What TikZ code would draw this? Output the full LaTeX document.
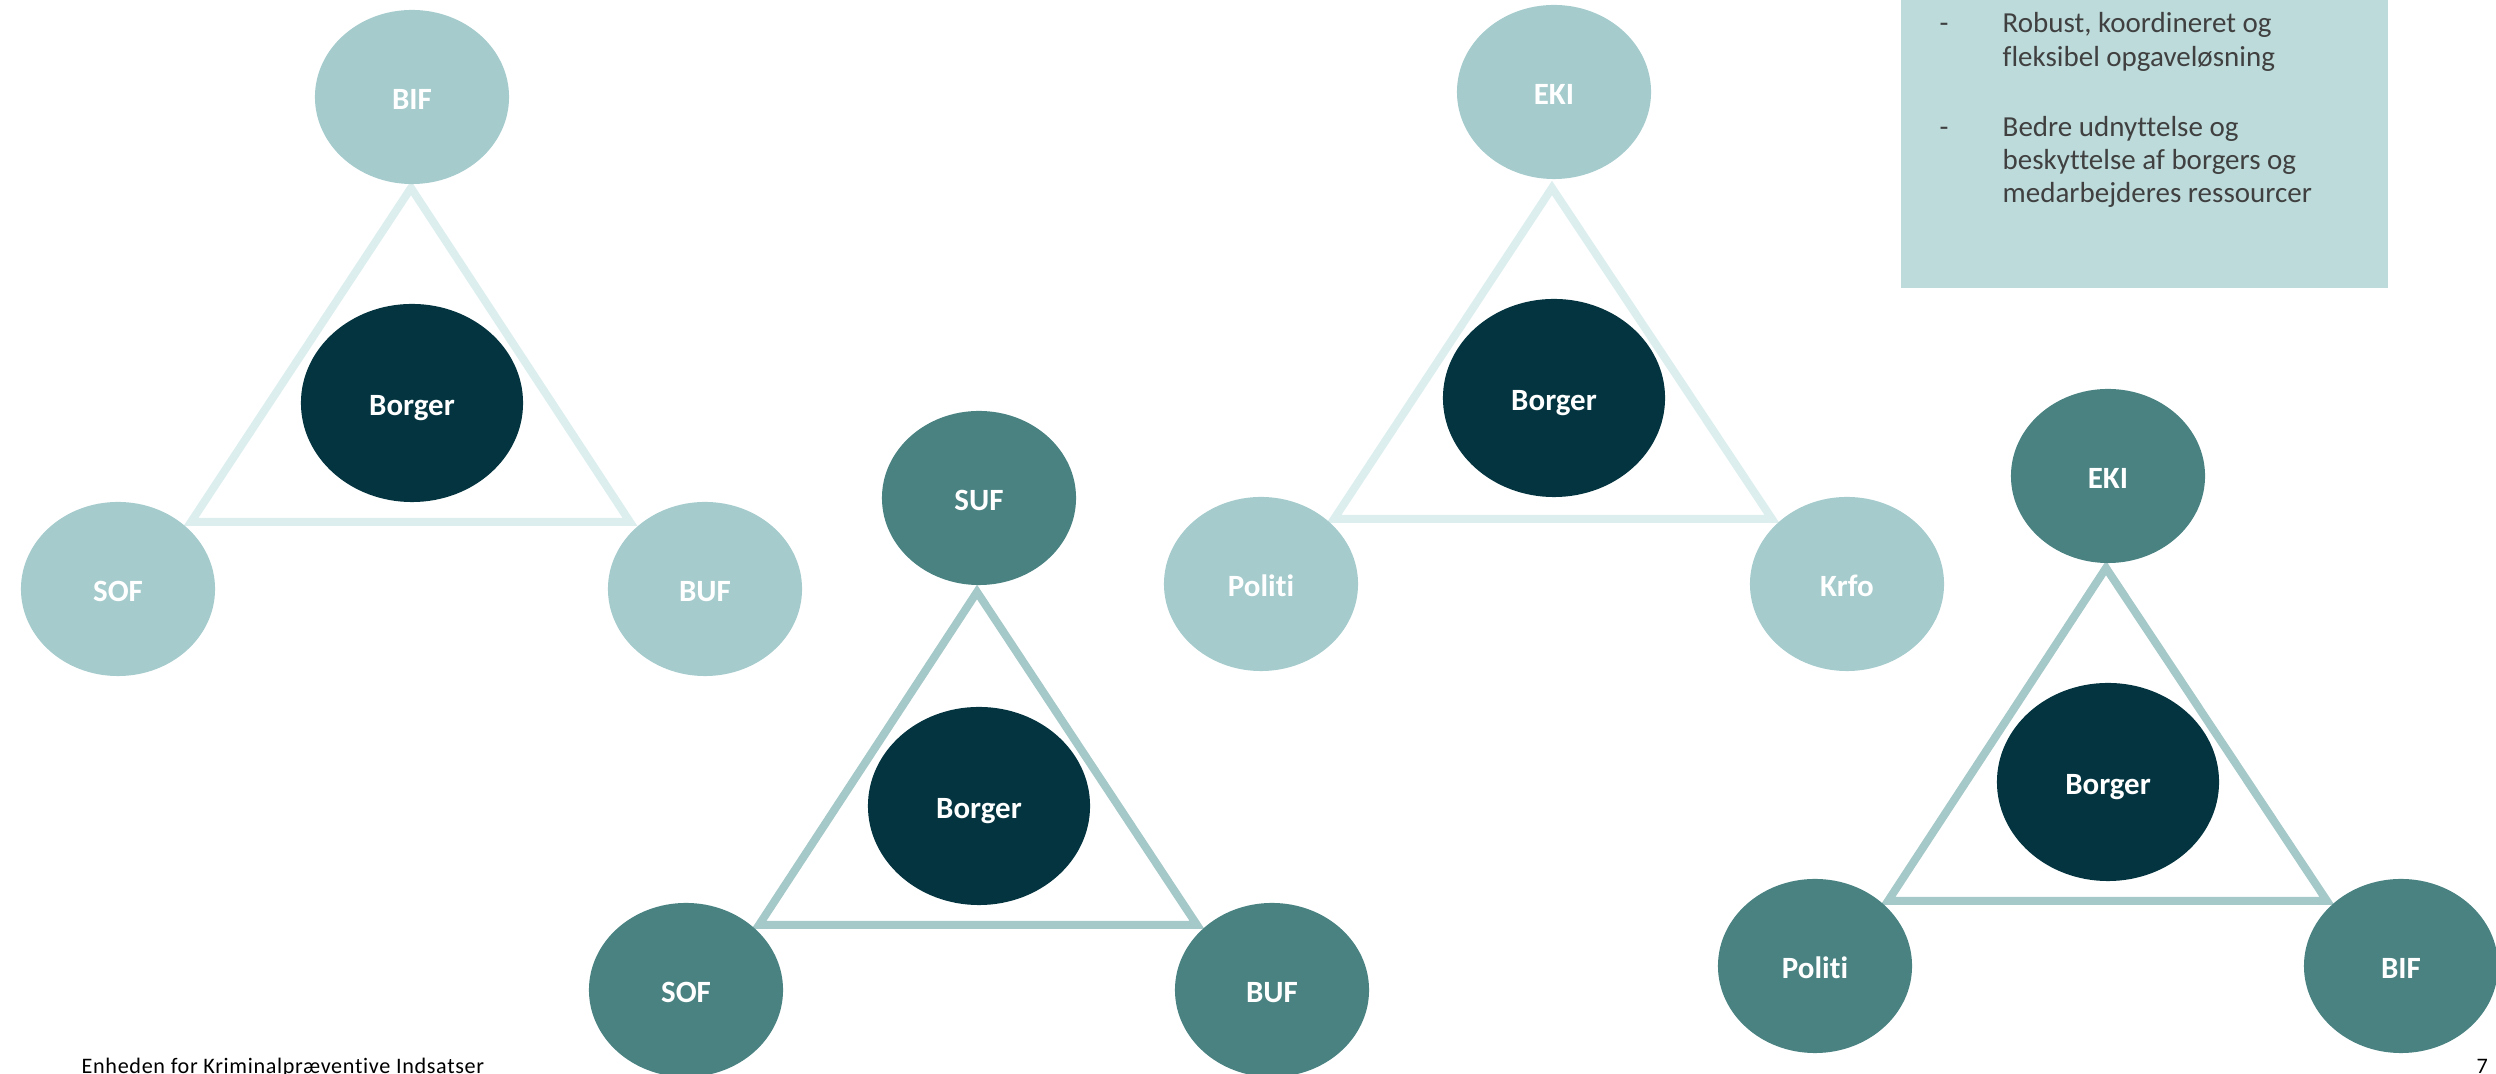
\documentclass[tikz,border=0pt]{standalone}
\usepackage{fontspec}
\setmainfont{Carlito}[Ligatures=NoCommon]
\usetikzlibrary{shapes.geometric}
\definecolor{lightnode}{HTML}{A5CBCD}
\definecolor{darknode}{HTML}{4A8282}
\definecolor{borgercol}{HTML}{033440}
\definecolor{lighttri}{HTML}{DDEEEE}
\definecolor{midtri}{HTML}{A5C8C8}
\definecolor{boxcol}{HTML}{BDDBDB}
\definecolor{txtcol}{HTML}{404040}
\begin{document}
\begin{tikzpicture}[x=0.01cm,y=-0.01cm,
  lbl/.style={font=\fontsize{8.8}{10}\selectfont\bfseries, text=white, text height=0.25cm, text depth=0cm},
  sat/.style={ellipse, inner sep=0pt, minimum width=1.94cm, minimum height=1.74cm, lbl},
  satlight/.style={sat, fill=lightnode},
  satdark/.style={sat, fill=darknode},
  borger/.style={ellipse, inner sep=0pt, minimum width=2.22cm, minimum height=1.98cm, fill=borgercol, lbl},
  trilight/.style={draw=lighttri, line width=0.08cm, line join=miter},
  trimid/.style={draw=midtri, line width=0.08cm, line join=miter},
  boxtext/.style={font=\fontsize{8.25}{9.7}\selectfont, text=txtcol, inner sep=0pt, anchor=base west},
  foot/.style={font=\fontsize{6.3}{7}\selectfont, text=black, inner sep=0pt, anchor=base west},
]
\useasboundingbox (0,0) rectangle (2496,1074);
\clip (0,0) rectangle (2496,1074);

% ---- text box ----
\fill[boxcol] (1901,-10) rectangle (2388,288);
\node[boxtext] (d1) at (1939,33) {-};
\node[boxtext] (p1a) at (2002,33) {Robust, koordineret og};
\node[boxtext] (p1b) at (2002,67) {fleksibel opgaveløsning};
\node[boxtext] (d2) at (1939,137) {-};
\node[boxtext] (p2a) at (2002,137) {Bedre udnyttelse og};
\node[boxtext] (p2b) at (2002,170) {beskyttelse af borgers og};
\node[boxtext] (p2c) at (2002,203) {medarbejderes ressourcer};

% ---- panel 1 ----
\coordinate (a1) at (411,188);
\coordinate (b1) at (191,522);
\coordinate (c1) at (630,522);
\draw[trilight] (a1) -- (b1) -- (c1) -- cycle;
\node[satlight] (bif1) at (412,97) {BIF};
\node[satlight] (sof1) at (118,589) {SOF};
\node[satlight] (buf1) at (705,589) {BUF};
\node[borger] (borger1) at (412,403) {Borger};

% ---- panel 2 ----
\coordinate (a2) at (977,592);
\coordinate (b2) at (759,925);
\coordinate (c2) at (1197,925);
\draw[trimid] (a2) -- (b2) -- (c2) -- cycle;
\node[satdark] (suf2) at (979,498) {SUF};
\node[satdark] (sof2) at (686,990) {SOF};
\node[satdark] (buf2) at (1272,990) {BUF};
\node[borger] (borger2) at (979,806) {Borger};

% ---- panel 3 ----
\coordinate (a3) at (1552,188);
\coordinate (b3) at (1334,519);
\coordinate (c3) at (1772,519);
\draw[trilight] (a3) -- (b3) -- (c3) -- cycle;
\node[satlight] (eki3) at (1554,92) {EKI};
\node[satlight] (politi3) at (1261,584) {Politi};
\node[satlight] (krfo3) at (1847,584) {Krfo};
\node[borger] (borger3) at (1554,398) {Borger};

% ---- panel 4 ----
\coordinate (a4) at (2106,568);
\coordinate (b4) at (1888,901);
\coordinate (c4) at (2327,901);
\draw[trimid] (a4) -- (b4) -- (c4) -- cycle;
\node[satdark] (eki4) at (2108,476) {EKI};
\node[satdark] (politi4) at (1815,966) {Politi};
\node[satdark] (bif4) at (2401,966) {BIF};
\node[borger] (borger4) at (2108,782) {Borger};

% ---- footer ----
\node[foot] (footer) at (81,1074) {\addfontfeatures{LetterSpace=3}Enheden for Kriminalpræventive Indsatser};
\node[foot] (pagenum) at (2476,1074) {7};
\end{tikzpicture}
\end{document}
